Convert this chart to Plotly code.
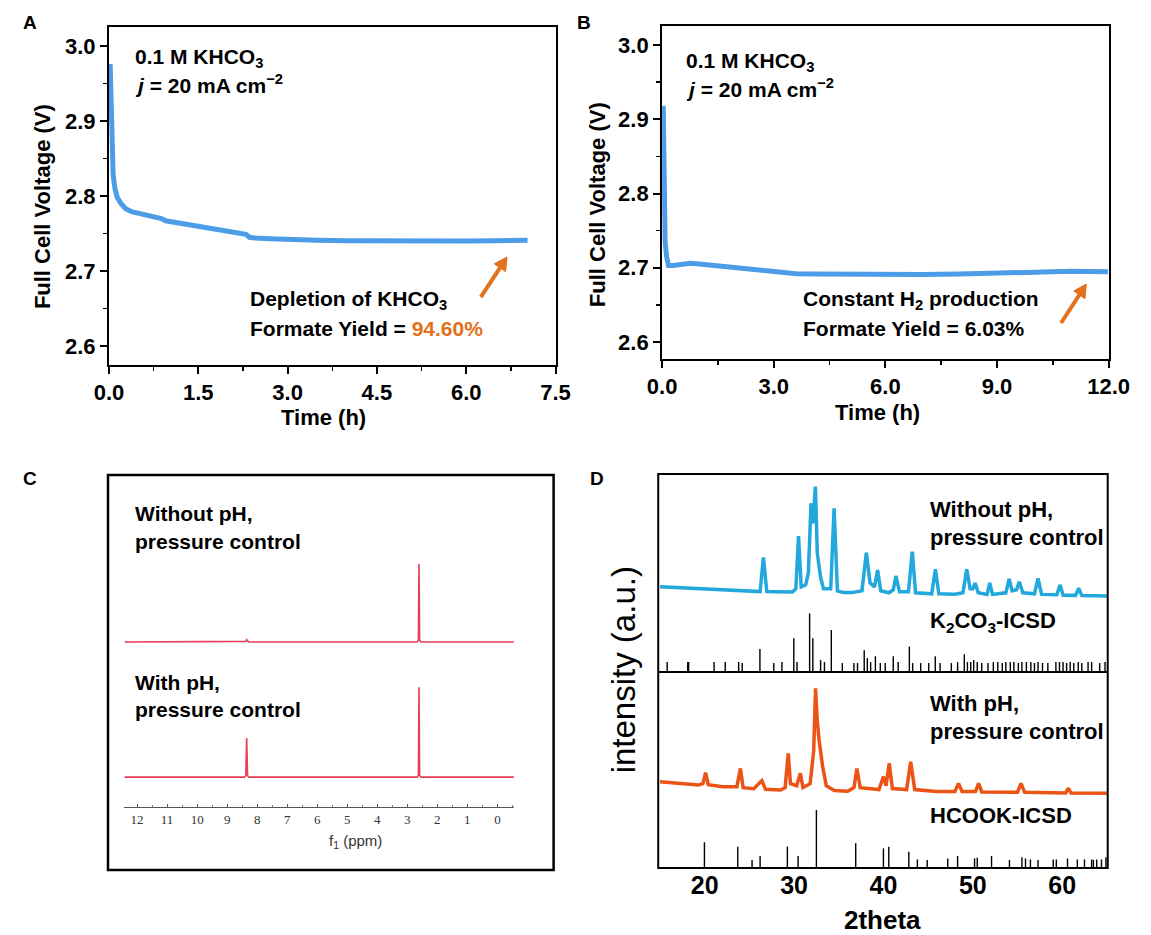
import plotly.graph_objects as go

W, H = 1151, 935

# ---------------- data ----------------
# Panel A: full cell voltage over time (0.1 M KHCO3, 20 mA cm-2)
time_a = [0.02, 0.025, 0.03, 0.035, 0.04, 0.05, 0.07, 0.10, 0.14, 0.20, 0.28, 0.38,
          0.50, 0.65, 0.80, 0.88, 0.95, 1.10, 1.30, 1.50, 1.70, 1.90, 2.10, 2.30,
          2.36, 2.45, 2.70, 3.00, 3.50, 4.00, 4.50, 5.00, 5.50, 6.00, 6.50, 7.03]
volt_a = [2.976, 2.960, 2.935, 2.905, 2.875, 2.850, 2.828, 2.810, 2.798, 2.790, 2.783, 2.779,
          2.777, 2.775, 2.773, 2.770, 2.767, 2.765, 2.762, 2.760, 2.757, 2.754, 2.751, 2.749,
          2.745, 2.744, 2.743, 2.742, 2.741, 2.7405, 2.740, 2.7398, 2.7398, 2.740, 2.7405, 2.741]

# Panel B: full cell voltage over time with pH / pressure control
time_b = [0.03, 0.035, 0.04, 0.045, 0.05, 0.08, 0.12, 0.17, 0.30, 0.50, 0.75, 1.00, 1.30,
          1.60, 2.00, 2.40, 2.80, 3.20, 3.60, 4.20, 5.00, 6.00, 7.00, 8.00, 9.00, 10.00,
          11.00, 11.98]
volt_b = [2.918, 2.880, 2.840, 2.800, 2.757, 2.735, 2.715, 2.703, 2.703, 2.705, 2.706, 2.705,
          2.7035, 2.702, 2.699, 2.6965, 2.6945, 2.6935, 2.692, 2.6915, 2.691, 2.691, 2.691,
          2.6915, 2.6925, 2.694, 2.6953, 2.6945]

# arrows pointing at the end of each run: (tail time, tail V, head time, head V)
arrow_a = (6.245, 2.6653, 6.685, 2.7187)
arrow_b = (10.72, 2.6256, 11.40, 2.678)

# Panel C: 1H NMR spectra (intensity above each trace's baseline)
nmr_ppm = [12.42, 8.42, 8.38, 8.35, 8.32, 8.28, 2.67, 2.63, 2.61, 2.59, 2.55, -0.55]
nmr_without = [0, 0, 0.2, 0.7, 0.2, 0, 0, 0.6, 23.5, 0.6, 0, 0]
nmr_with = [0, 0, 0.4, 11.8, 0.4, 0, 0, 0.6, 27.1, 0.6, 0, 0]
nmr_ticks = [12, 11, 10, 9, 8, 7, 6, 5, 4, 3, 2, 1, 0]

# Panel D: XRD patterns
xrd_blue_2theta = [15.0, 17.0, 19.0, 21.0, 23.0, 25.0, 26.2, 26.57, 26.95, 28.0, 29.8, 30.2,
                   30.5, 30.8, 31.3, 31.6, 31.9, 32.1, 32.39, 32.6, 32.96, 33.3, 34.1, 34.48,
                   34.85, 35.5, 36.5, 37.6, 38.09, 38.5, 39.0, 39.35, 39.7, 40.6, 41.1, 41.4,
                   41.8, 42.8, 43.23, 43.6, 45.4, 45.82, 46.2, 48.0, 48.9, 49.32, 49.7, 50.0,
                   50.27, 50.6, 51.6, 51.9, 52.2, 53.7, 54.07, 54.4, 54.9, 55.2, 55.6, 56.9,
                   57.3, 57.7, 59.4, 59.78, 60.1, 61.5, 61.85, 62.2, 63.5, 65.0]
xrd_blue_int = [43.1, 42.7, 42.2, 41.8, 41.3, 40.9, 40.6, 57.9, 40.6, 40.5, 40.4, 42.0,
                68.7, 43.0, 44.0, 50.0, 85.2, 75.0, 93.6, 60.0, 48.0, 42.0, 42.0, 82.7,
                41.0, 40.2, 40.1, 41.0, 60.3, 45.0, 43.0, 51.5, 41.0, 40.0, 41.5, 48.5,
                40.5, 40.5, 60.8, 40.0, 39.5, 51.9, 39.5, 39.3, 40.0, 51.9, 42.0, 42.0,
                45.0, 40.0, 39.2, 45.0, 39.2, 40.0, 47.0, 41.0, 41.5, 45.6, 40.0, 39.5,
                47.3, 39.2, 39.0, 44.0, 38.8, 38.7, 42.3, 38.6, 38.5, 38.4]

xrd_orange_2theta = [15.0, 17.0, 19.3, 19.8, 20.1, 20.4, 22.0, 23.6, 24.0, 24.3, 25.5, 26.4,
                     26.8, 28.5, 29.0, 29.35, 29.6, 30.3, 30.7, 31.0, 31.8, 32.2, 32.4, 32.6,
                     32.8, 33.2, 33.6, 34.5, 36.0, 36.7, 37.03, 37.4, 39.5, 40.0, 40.3, 40.65,
                     41.0, 42.6, 43.05, 43.5, 45.9, 48.0, 48.4, 48.8, 50.3, 50.65, 51.0, 55.0,
                     55.4, 55.8, 60.4, 60.7, 61.0, 65.0]
xrd_orange_int = [44.0, 43.3, 42.3, 43.0, 48.6, 42.5, 41.5, 41.5, 50.8, 41.0, 40.5, 44.6,
                  40.2, 39.8, 41.0, 58.5, 43.0, 42.0, 48.3, 41.0, 43.0, 60.0, 91.7, 75.0,
                  65.3, 51.7, 42.0, 39.5, 39.2, 41.0, 50.8, 41.0, 40.0, 46.6, 42.0, 53.4,
                  40.5, 40.0, 54.2, 40.0, 39.0, 39.0, 43.2, 39.0, 39.0, 43.2, 38.8, 38.7,
                  43.2, 38.6, 38.3, 40.7, 38.2, 38.1]

# reference patterns (2theta, relative intensity)
k2co3_icsd = [(15.8, 5), (18.1, 5), (18.2, 5), (21.05, 5), (22.3, 5), (23.8, 5), (24.2, 4.5),
              (26.18, 11.6), (27.73, 4.5), (28.64, 5), (29.97, 17), (30.33, 5), (31.74, 29.6),
              (32.1, 17), (32.97, 6), (33.4, 5), (34.17, 21.2), (35.4, 4.5), (36.7, 4.5),
              (37.1, 4.5), (37.85, 11), (38.2, 7), (38.57, 5), (39.1, 8), (39.65, 4.5),
              (40.2, 4.5), (41.1, 8), (41.65, 5), (42.9, 12.8), (43.27, 4.5), (44.17, 4.5),
              (45.07, 4.5), (45.8, 8), (46.34, 4.5), (47.6, 4.5), (48.3, 5), (49.05, 9),
              (49.4, 5), (49.77, 5), (50.1, 6), (50.5, 5), (51.0, 4.5), (51.7, 4.5), (52.3, 5),
              (52.8, 5), (53.3, 4.5), (53.7, 5), (54.2, 5), (54.6, 5), (55.1, 4.5), (55.5, 5),
              (56.0, 5), (56.5, 5), (56.9, 4.5), (57.3, 5), (57.8, 4.5), (58.4, 4.5),
              (59.3, 5), (59.7, 5), (60.1, 5), (60.5, 4.5), (60.9, 5), (61.3, 4.5), (61.8, 5),
              (62.2, 4.5), (62.9, 5), (63.3, 5), (64.2, 4.5), (64.8, 5)]
hcook_icsd = [(19.97, 13.1), (23.7, 10.9), (25.3, 4.1), (26.2, 6.1), (29.25, 10.9),
              (30.45, 6.1), (32.5, 29.6), (36.9, 12.6), (40.0, 10.0), (40.6, 10.9),
              (42.84, 8.3), (43.8, 4.4), (44.9, 4.1), (47.2, 4.9), (48.3, 6.1), (50.2, 4.9),
              (50.5, 5.2), (52.1, 6.1), (54.1, 4.1), (55.5, 5.5), (55.9, 4.9), (56.45, 4.4),
              (57.3, 4.1), (59.0, 4.4), (59.35, 4.4), (60.6, 4.9), (61.7, 4.4), (62.5, 4.4),
              (63.3, 4.4), (63.5, 4.1), (63.87, 4.4), (64.4, 4.4), (64.9, 5.5)]

# ---------------- styling helpers ----------------
FONT = "Liberation Sans, Arial, sans-serif"
SERIF = "Liberation Serif, Times New Roman, serif"
BLUE_V = "rgb(76,156,232)"
ORANGE = "#e2711d"
NMR_RED = "rgb(232,62,84)"
XRD_BLUE = "#22a8dc"
XRD_ORANGE = "#ec5416"

# pixel frames of the two voltage panels: (left, right, top, bottom), x range, y range
FRAME_A = dict(box=(97, 558, 27, 365), xr=(0, 7.5), yr=(2.5747, 3.0253))
FRAME_B = dict(box=(668, 1129, 26, 359), xr=(0, 12.0), yr=(2.5771, 3.0256))


def px(x):
    return x / W


def py(y):
    return 1 - y / H


def to_pixel(frame, t, v):
    l, r, top, b = frame["box"]
    x0, x1 = frame["xr"]
    y0, y1 = frame["yr"]
    return (l + (t - x0) / (x1 - x0) * (r - l), b - (v - y0) / (y1 - y0) * (b - top))


def stick_xy(pairs):
    xs, ys = [], []
    for p, v in pairs:
        xs += [p, p, None]
        ys += [0, v, None]
    return xs, ys


fig = go.Figure()

# voltage curves
fig.add_trace(go.Scatter(x=time_a, y=volt_a, mode="lines",
                         line=dict(color=BLUE_V, width=5), xaxis="x", yaxis="y"))
fig.add_trace(go.Scatter(x=time_b, y=volt_b, mode="lines",
                         line=dict(color=BLUE_V, width=5), xaxis="x2", yaxis="y2"))

# NMR spectra, stacked with fixed baselines
base_top, base_bottom = 49.7, 9.0
fig.add_trace(go.Scatter(x=nmr_ppm, y=[base_top + v for v in nmr_without], mode="lines",
                         line=dict(color=NMR_RED, width=1.6), xaxis="x3", yaxis="y3"))
fig.add_trace(go.Scatter(x=nmr_ppm, y=[base_bottom + v for v in nmr_with], mode="lines",
                         line=dict(color=NMR_RED, width=1.6), xaxis="x3", yaxis="y3"))

# XRD: upper pane (blue pattern + K2CO3 sticks)
kx, ky = stick_xy(k2co3_icsd)
fig.add_trace(go.Scatter(x=kx, y=ky, mode="lines", line=dict(color="black", width=1.4),
                         xaxis="x5", yaxis="y5"))
fig.add_trace(go.Scatter(x=xrd_blue_2theta, y=xrd_blue_int, mode="lines",
                         line=dict(color=XRD_BLUE, width=3.5), xaxis="x5", yaxis="y5"))
# XRD: lower pane (orange pattern + HCOOK sticks)
hx, hy = stick_xy(hcook_icsd)
fig.add_trace(go.Scatter(x=hx, y=hy, mode="lines", line=dict(color="black", width=1.4),
                         xaxis="x4", yaxis="y4"))
fig.add_trace(go.Scatter(x=xrd_orange_2theta, y=xrd_orange_int, mode="lines",
                         line=dict(color=XRD_ORANGE, width=3.5), xaxis="x4", yaxis="y4"))

tick_font = dict(family=FONT, size=22, color="black", weight="bold")


def volt_xaxis(frame, dtick, minor, anchor):
    l, r, top, b = frame["box"]
    return dict(domain=[px(l), px(r)], range=list(frame["xr"]), dtick=dtick, tick0=0,
                tickformat=".1f", anchor=anchor,
                showline=True, mirror=True, linecolor="black", linewidth=2,
                ticks="outside", ticklen=7, tickwidth=2, tickcolor="black",
                minor=dict(dtick=minor, tick0=0, ticks="outside", ticklen=4,
                           tickwidth=1.5, tickcolor="black"),
                showgrid=False, zeroline=False, tickfont=tick_font, fixedrange=True)


def volt_yaxis(frame, anchor):
    l, r, top, b = frame["box"]
    return dict(domain=[py(b), py(top)], range=list(frame["yr"]), dtick=0.1, tick0=0,
                tickformat=".1f", anchor=anchor,
                showline=True, mirror=True, linecolor="black", linewidth=2,
                ticks="outside", ticklen=7, tickwidth=2, tickcolor="black",
                minor=dict(dtick=0.05, tick0=0, ticks="outside", ticklen=4,
                           tickwidth=1.5, tickcolor="black"),
                showgrid=False, zeroline=False, tickfont=tick_font, fixedrange=True)


layout = dict(
    width=W, height=H, autosize=False,
    margin=dict(l=0, r=0, t=0, b=0, pad=0),
    paper_bgcolor="white", plot_bgcolor="white",
    showlegend=False,
    font=dict(family=FONT, color="black"),
    xaxis=volt_xaxis(FRAME_A, 1.5, 0.75, "y"),
    yaxis=volt_yaxis(FRAME_A, "x"),
    xaxis2=volt_xaxis(FRAME_B, 3.0, 1.5, "y2"),
    yaxis2=volt_yaxis(FRAME_B, "x2"),
    xaxis3=dict(domain=[px(113), px(515)], range=[12.42, -0.55], anchor="y3",
                tickvals=nmr_ticks, ticktext=[str(t) for t in nmr_ticks],
                showline=True, linecolor="#555555", linewidth=1.2,
                ticks="inside", ticklen=3, tickcolor="#555555", tickwidth=1,
                minor=dict(dtick=0.5, tick0=0, ticks="inside", ticklen=2, tickcolor="#777777"),
                showgrid=False, zeroline=False,
                tickfont=dict(family=SERIF, size=13, color="#333333"), fixedrange=True),
    yaxis3=dict(domain=[py(807), py(475)], range=[0, 100], anchor="x3", visible=False,
                fixedrange=True),
    xaxis4=dict(domain=[px(664), px(1128)], range=[14.8, 65.1], anchor="y4",
                tickvals=[20, 30, 40, 50, 60], ticks="", showline=False, showgrid=False,
                zeroline=False, tickfont=dict(family=FONT, size=25, color="black", weight="bold"),
                fixedrange=True),
    yaxis4=dict(domain=[py(868), py(672)], range=[0, 100], anchor="x4", visible=False,
                fixedrange=True),
    xaxis5=dict(domain=[px(664), px(1128)], range=[14.8, 65.1], anchor="y5", visible=False,
                fixedrange=True),
    yaxis5=dict(domain=[py(672), py(474)], range=[0, 100], anchor="x5", visible=False,
                fixedrange=True),
)
fig.update_layout(**layout)

# boxes for panels C and D
shapes = [
    dict(type="rect", xref="paper", yref="paper", x0=px(96), x1=px(556), y0=py(870), y1=py(475),
         line=dict(color="black", width=2.5)),
    dict(type="rect", xref="paper", yref="paper", x0=px(664), x1=px(1128), y0=py(868), y1=py(474),
         line=dict(color="black", width=2)),
    dict(type="line", xref="paper", yref="paper", x0=px(664), x1=px(1128), y0=py(672), y1=py(672),
         line=dict(color="black", width=2)),
]


def arrow_shapes(frame, spec, head_len=13, half_w=7, width=4):
    tx, ty = to_pixel(frame, spec[0], spec[1])
    hx_, hy_ = to_pixel(frame, spec[2], spec[3])
    dx, dy = hx_ - tx, hy_ - ty
    n = (dx * dx + dy * dy) ** 0.5
    ux, uy = dx / n, dy / n
    bx, by = hx_ - ux * head_len, hy_ - uy * head_len
    nx, ny = -uy, ux
    tri = (f"M {px(hx_)} {py(hy_)} L {px(bx + nx * half_w)} {py(by + ny * half_w)} "
           f"L {px(bx - nx * half_w)} {py(by - ny * half_w)} Z")
    return [
        dict(type="line", xref="paper", yref="paper", x0=px(tx), y0=py(ty),
             x1=px(bx + ux * 2), y1=py(by + uy * 2), line=dict(color=ORANGE, width=width)),
        dict(type="path", xref="paper", yref="paper", path=tri, fillcolor=ORANGE,
             line=dict(color=ORANGE, width=1)),
    ]


shapes += arrow_shapes(FRAME_A, arrow_a)
shapes += arrow_shapes(FRAME_B, arrow_b)
fig.update_layout(shapes=shapes)

ann = []


def text(x, y, s, size=21, bold=True, xanchor="left", angle=0, family=FONT, color="black"):
    ann.append(dict(x=px(x), y=py(y), xref="paper", yref="paper", text=s, showarrow=False,
                    xanchor=xanchor, yanchor="middle", align="left", textangle=angle,
                    font=dict(family=family, size=size, color=color,
                              weight="bold" if bold else "normal")))


# panel letters
text(6, 22, "A", size=19)
text(578, 22, "B", size=19)
text(6, 478, "C", size=19)
text(591, 478, "D", size=19)

# panel A
text(122, 58, "0.1 M KHCO<sub>3</sub>")
text(122, 84, "<i>j</i> = 20 mA cm<sup>−2</sup>")
text(241, 300, "Depletion of KHCO<sub>3</sub>")
text(241, 328, f"Formate Yield = <span style='color:{ORANGE}'>94.60%</span>")
text(28, 207, "Full Cell Voltage (V)", size=22, xanchor="center", angle=-90)
text(318, 417, "Time (h)", size=22, xanchor="center")

# panel B
text(691, 62, "0.1 M KHCO<sub>3</sub>")
text(691, 88, "<i>j</i> = 20 mA cm<sup>−2</sup>")
text(811, 300, "Constant H<sub>2</sub> production")
text(811, 328, "Formate Yield = 6.03%")
text(601, 205, "Full Cell Voltage (V)", size=22, xanchor="center", angle=-90)
text(890, 412, "Time (h)", size=22, xanchor="center")

# panel C
text(122, 513, "Without pH,")
text(122, 541, "pressure control")
text(122, 682, "With pH,")
text(122, 709, "pressure control")
text(352, 841, "f<sub>1</sub> (ppm)", size=15, bold=False, xanchor="center", color="#333333")

# panel D
text(942, 509, "Without pH,", size=22)
text(942, 537, "pressure control", size=22)
text(942, 622, "K<sub>2</sub>CO<sub>3</sub>-ICSD", size=22)
text(942, 703, "With pH,", size=22)
text(942, 731, "pressure control", size=22)
text(942, 815, "HCOOK-ICSD", size=22)
text(628, 670, "intensity (a.u.)", size=33, bold=False, xanchor="center", angle=-90)
text(896, 920, "2theta", size=26, xanchor="center")

fig.update_layout(annotations=ann)

fig.write_html("out.html", config=dict(displayModeBar=False, staticPlot=True))
